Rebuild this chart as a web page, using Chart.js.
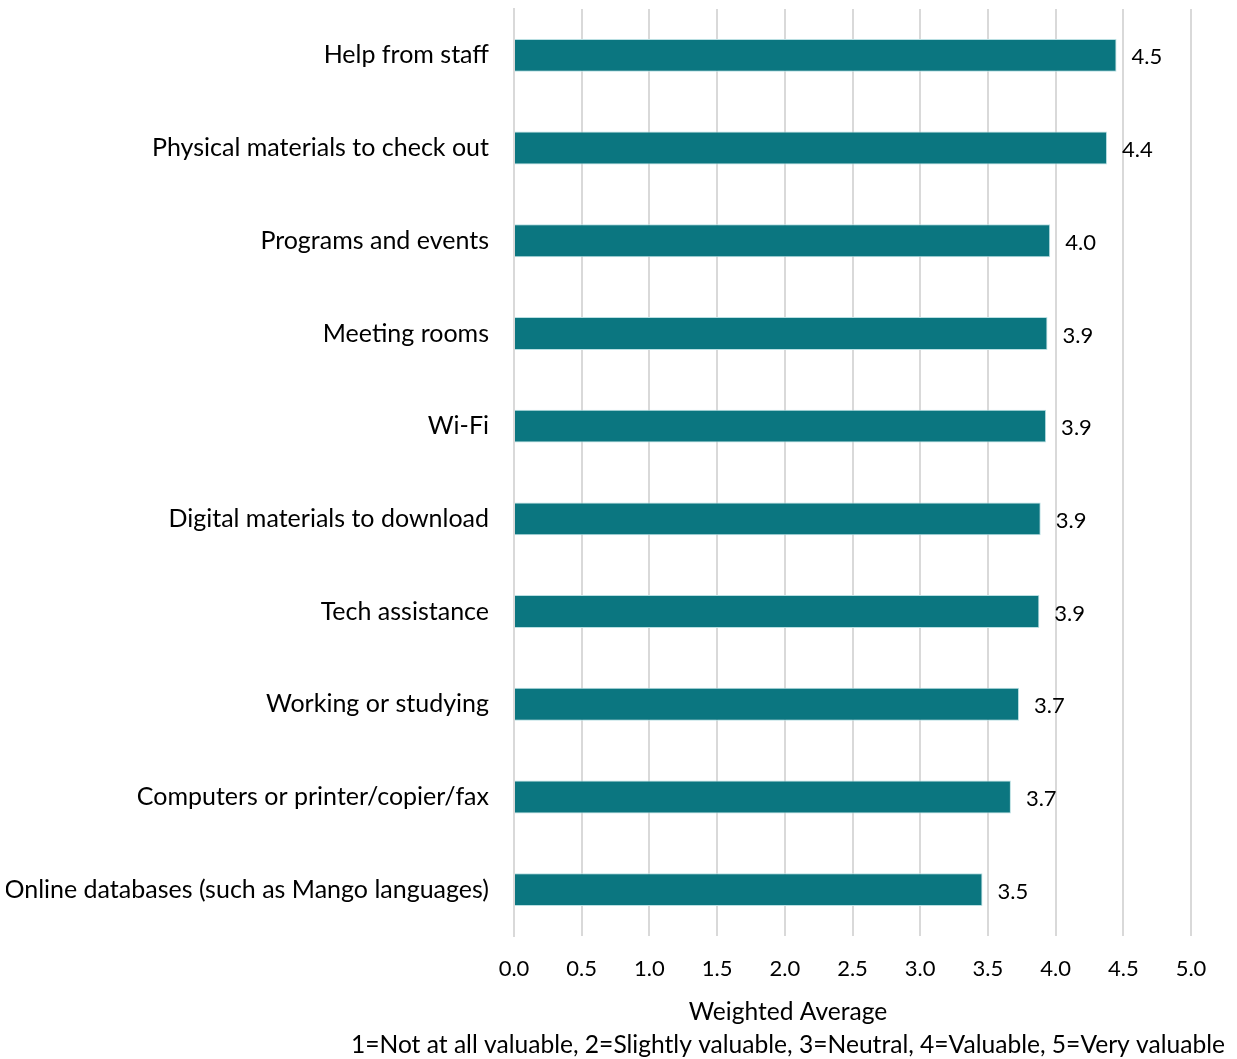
<!DOCTYPE html>
<html lang="en">
<head>
    <meta charset="UTF-8">
    <title>Weighted Average of Library Services</title>
    <script src="https://cdn.jsdelivr.net/npm/chart.js"></script>
    <style>
        body {
            margin: 0;
            background: #ffffff;
        }
        canvas {
            display: block;
        }
    </style>
</head>
<body>

<canvas id="serviceChart" width="1237" height="1059"></canvas>

<script>
    // Services (top to bottom) and their weighted averages
    const services = [
        'Help from staff',
        'Physical materials to check out',
        'Programs and events',
        'Meeting rooms',
        'Wi-Fi',
        'Digital materials to download',
        'Tech assistance',
        'Working or studying',
        'Computers or printer/copier/fax',
        'Online databases (such as Mango languages)'
    ];
    const weightedAverages = [4.45, 4.38, 3.96, 3.94, 3.93, 3.89, 3.88, 3.73, 3.67, 3.46];

    const axisTitle = 'Weighted Average';
    const scaleNote = '1=Not at all valuable, 2=Slightly valuable, 3=Neutral, 4=Valuable, 5=Very valuable';

    const FONT = 'Lato, "Open Sans", sans-serif';
    const TEXT = '#000000';

    // Value labels to the right of each bar
    const valueLabels = {
        id: 'valueLabels',
        afterDatasetsDraw(chart) {
            const ctx = chart.ctx;
            const meta = chart.getDatasetMeta(0);
            ctx.save();
            ctx.font = '22px ' + FONT;
            ctx.fillStyle = TEXT;
            ctx.textAlign = 'left';
            ctx.textBaseline = 'middle';
            meta.data.forEach((bar, i) => {
                ctx.fillText(weightedAverages[i].toFixed(1), bar.x + 15, bar.y + 2);
            });
            ctx.restore();
        }
    };

    // Axis title and scale note, centred under the plot
    const bottomTitle = {
        id: 'bottomTitle',
        afterDraw(chart) {
            const ctx = chart.ctx;
            const cx = 788;
            ctx.save();
            ctx.font = '24.6px ' + FONT;
            ctx.fillStyle = TEXT;
            ctx.textAlign = 'center';
            ctx.textBaseline = 'middle';
            ctx.fillText(axisTitle, cx, 1012);
            ctx.fillText(scaleNote, cx, 1045);
            ctx.restore();
        }
    };

    const noPad = s => {
        s.paddingTop = 0;
        s.paddingBottom = 0;
        s.paddingLeft = 0;
        s.paddingRight = 0;
    };

    const ctx = document.getElementById('serviceChart').getContext('2d');
    new Chart(ctx, {
        type: 'bar',
        data: {
            labels: services,
            datasets: [{
                data: weightedAverages,
                backgroundColor: '#0b7680',
                borderColor: '#b9dfe2',
                borderWidth: 1,
                categoryPercentage: 1.0,
                barPercentage: 0.355
            }]
        },
        options: {
            indexAxis: 'y',
            responsive: false,
            animation: false,
            layout: {
                padding: { top: 9, left: 6, right: 46, bottom: 63 }
            },
            plugins: {
                legend: { display: false },
                tooltip: { enabled: false }
            },
            scales: {
                x: {
                    min: 0,
                    max: 5,
                    ticks: {
                        stepSize: 0.5,
                        padding: 20,
                        color: TEXT,
                        font: { family: FONT, size: 22 },
                        callback: v => Number(v).toFixed(1)
                    },
                    grid: {
                        color: '#d9d9d9',
                        lineWidth: 2,
                        drawTicks: false
                    },
                    border: { display: false },
                    afterFit: s => { s.height = 60; noPad(s); }
                },
                y: {
                    ticks: {
                        padding: 25,
                        color: TEXT,
                        font: { family: FONT, size: 25 }
                    },
                    grid: { display: false, drawTicks: false },
                    border: { display: true, color: '#d9d9d9', width: 2 },
                    afterFit: s => { s.width = 508; noPad(s); }
                }
            }
        },
        plugins: [valueLabels, bottomTitle]
    });
</script>

</body>
</html>
